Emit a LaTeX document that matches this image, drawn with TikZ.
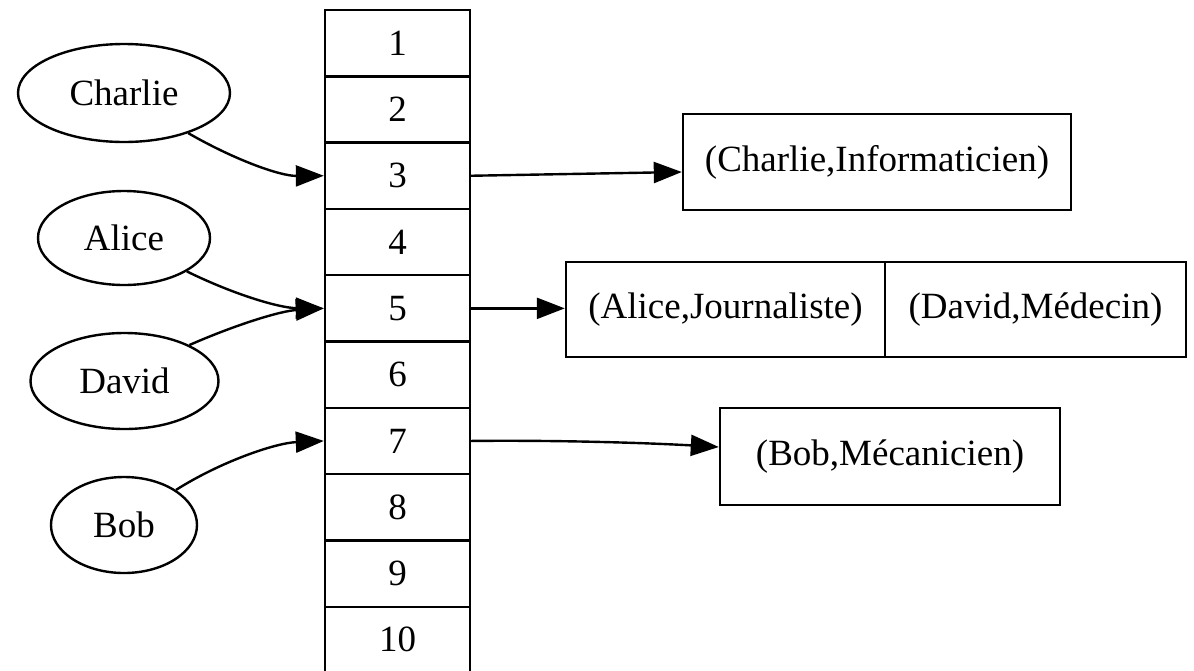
\documentclass[tikz,border=0pt]{standalone}
\usepackage{fontspec}
\setmainfont{Liberation Serif}
\usetikzlibrary{shapes.geometric,arrows.meta}
\begin{document}
\begin{tikzpicture}[x=1pt,y=-1pt,
  every node/.style={font=\fontsize{37}{44}\selectfont, inner sep=0pt},
  person/.style={ellipse, draw, line width=2.4pt},
  cell/.style={rectangle, draw, line width=2.4pt, minimum width=145pt, minimum height=66.3pt},
  recbox/.style={rectangle, draw, line width=2.4pt},
  link/.style={line width=2.4pt, -{Triangle[length=28pt,width=21pt]}}]
\useasboundingbox (0,0) rectangle (1194,670);
\foreach \i in {1,...,10} {
  \node[cell] (r\i) at (397.5, {10+(\i-0.5)*66.3}) {\i};
}
\node[person, minimum width=212pt, minimum height=98pt] (cha) at (124,93) {Charlie};
\node[person, minimum width=172pt, minimum height=94pt] (ali) at (124,238) {Alice};
\node[person, minimum width=188pt, minimum height=96pt] (dav) at (124.5,381) {David};
\node[person, minimum width=146pt, minimum height=96pt] (bob) at (124,525) {Bob};

\node[recbox, minimum width=388pt, minimum height=96pt] (chb) at (877,162) {(Charlie,Informaticien)};
\node[recbox, minimum width=319pt, minimum height=95pt] (alb) at (725.5,309.5) {(Alice,Journaliste)};
\node[recbox, minimum width=301pt, minimum height=95pt] (dab) at (1035.5,309.5) {(David,Médecin)};
\node[recbox, minimum width=340pt, minimum height=97pt] (bobb) at (890,456.5) {(Bob,Mécanicien)};

\draw[link] (cha.-32) .. controls (235,160) and (280,176) .. (r3.west);
\draw[link] (ali.-28) .. controls (235,295) and (280,308) .. (r5.west);
\draw[link] (dav.29) .. controls (235,325) and (280,311) .. (r5.west);
\draw[link] (bob.34) .. controls (220,462) and (275,443) .. (r7.west);
\draw[link] (r3.east) -- ([yshift=-10pt]chb.west);
\draw[link] (r5.east) -- (r5.east -| alb.west);
\draw[link] (r7.east) .. controls (560,440) and (650,443) .. ([yshift=9.5pt]bobb.west);
\end{tikzpicture}
\end{document}
